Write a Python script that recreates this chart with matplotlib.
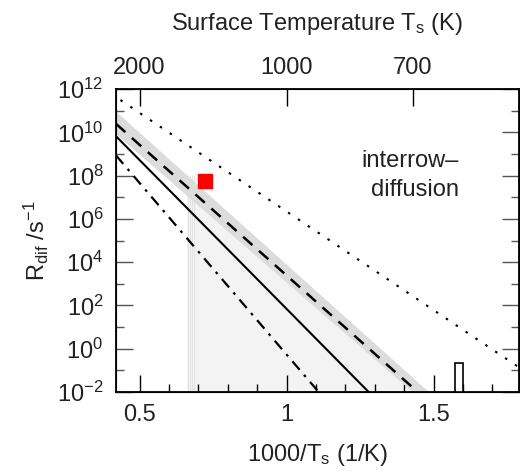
import numpy as np
import matplotlib
matplotlib.use("Agg")
import matplotlib.pyplot as plt

plt.rcParams['font.family'] = ['Liberation Sans', 'DejaVu Sans']
plt.rcParams['mathtext.fontset'] = 'custom'
plt.rcParams['mathtext.rm'] = 'Liberation Sans'
plt.rcParams['mathtext.it'] = 'Liberation Sans'

# rate lines, endpoints as (1000/Ts, log10 R)
solid_x = [0.42, 1.279]
solid_logR = [9.82, -2.0]
dashed_x = [0.42, 1.446]
dashed_logR = [10.39, -2.0]
dashdot_x = [0.42, 1.109]
dashdot_logR = [8.93, -2.0]
dotted_x = [0.435, 1.79]
dotted_logR = [11.49, -0.86]

# uncertainty band around the dashed line
band_x = [0.42, 1.483, 1.428, 0.42]
band_logR = [10.96, -2.0, -2.0, 9.92]

# faint background region below the band
light_x = [0.663, 0.663, 1.483]
light_logR = [8.0, -2.0, -2.0]
stripe_x = [0.664, 0.671, 0.679, 0.686]

# experimental point and histogram bar
exp_x = [0.721]
exp_logR = [7.75]
bar_left = [1.571]
bar_width = [0.028]
bar_logtop = [-0.67]

temps = [2000, 1000, 700]
yticks = [-2, 0, 2, 4, 6, 8, 10, 12]
xticks = [0.5, 1.0, 1.5]


def p(v):
    return 10.0 ** np.asarray(v)


fig = plt.figure(figsize=(5.2, 4.72), dpi=100)
ax = fig.add_axes([0.2231, 0.1695, 0.7749, 0.6419])

ax.fill(light_x, p(light_logR), color='#f3f3f3', lw=0, zorder=1)
for sx in stripe_x:
    ax.plot([sx, sx], p([-2, 8.0]), color='#e4e4e4', lw=0.8, zorder=1)
ax.fill(band_x, p(band_logR), color='#dcdcdc', lw=0, zorder=2)

ax.plot(solid_x, p(solid_logR), color='black', lw=1.5, zorder=3)
ax.plot(dashed_x, p(dashed_logR), color='black', lw=1.8,
        dashes=(5, 3.5), zorder=3)
ax.plot(dashdot_x, p(dashdot_logR), color='black', lw=1.6,
        dashes=(5, 3, 1.2, 3), zorder=3)
ax.plot(dotted_x, p(dotted_logR), color='black', lw=1.5,
        dashes=(1.2, 4.5), zorder=3)

ax.bar(bar_left, p(bar_logtop) - 1e-2, width=bar_width, bottom=1e-2,
       align='edge', facecolor='white', edgecolor='black', lw=1.2, zorder=3)
ax.plot(exp_x, p(exp_logR), 's', color='#ff0000', ms=9.5, zorder=4)

ax.set_yscale('log')
ax.set_xlim(0.42, 1.79)
ax.set_ylim(1e-2, 1e12)

ax.set_yticks(p(yticks))
ax.set_yticklabels([r'$10^{%d}$' % t for t in yticks])
ax.set_yticks(p(np.arange(-1, 12, 2)), minor=True)
ax.yaxis.set_minor_formatter(plt.NullFormatter())
ax.set_xticks(xticks)
ax.set_xticklabels(['0.5', '1', '1.5'])
ax.set_xticks(np.arange(0.5, 1.8, 0.1), minor=True)

ax.tick_params(axis='both', which='both', direction='in', labelsize=17)
ax.tick_params(axis='y', which='both', right=True, colors='#555555',
               labelcolor='#222222')
ax.tick_params(axis='x', which='both', top=False, labelcolor='#222222')
ax.tick_params(which='major', length=12, width=1.0, pad=9)
ax.tick_params(which='minor', length=6, width=1.0)
for s in ax.spines.values():
    s.set_linewidth(1.3)

ax.set_xlabel(r'1000/T$_\mathrm{s}$ (1/K)', fontsize=17, labelpad=11,
              color='#222222')
ax.set_ylabel(r'R$_\mathrm{dif}$ /s$^{-1}$', fontsize=17, labelpad=4,
              color='#222222')

top = ax.twiny()
top.set_xlim(ax.get_xlim())
top.set_xticks([1000.0 / t for t in temps])
top.set_xticklabels([str(t) for t in temps])
top.tick_params(axis='x', direction='in', length=12, width=1.0,
                labelsize=17, pad=7, labelcolor='#222222')
top.set_xlabel(r'Surface Temperature T$_\mathrm{s}$ (K)', fontsize=17,
               labelpad=20, color='#222222')

ax.text(1.585, p(8.0), 'interrow\u2013\ndiffusion', fontsize=17,
        ha='right', va='center', multialignment='right', linespacing=1.45,
        color='#222222')

fig.savefig('out.png', dpi=100)
